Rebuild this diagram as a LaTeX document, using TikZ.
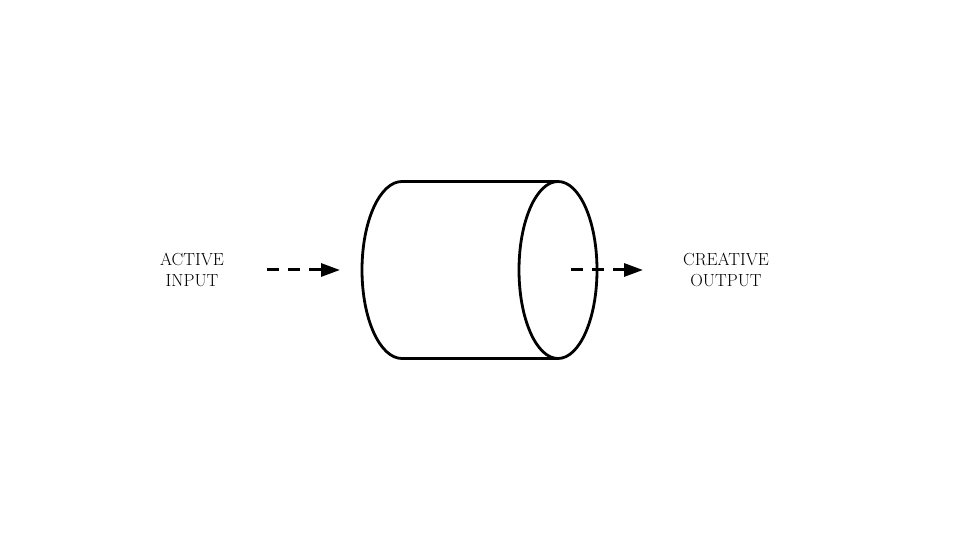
\documentclass[tikz,border=0pt]{standalone}
\usetikzlibrary{arrows.meta}

\tikzset{
  label text/.style={align=center, font=\fontsize{17.5}{21}\selectfont, inner sep=0pt},
  flow/.style={line width=3pt, dash pattern=on 12pt off 9pt, -{Triangle[length=19pt,width=13pt]}}
}

\begin{document}
\begin{tikzpicture}[x=1pt,y=1pt]
\useasboundingbox (0,0) rectangle (960,540);
% cylinder
\draw[line width=2.8pt] (558,358.5) -- (402,358.5)
  arc[start angle=90, end angle=270, x radius=40, y radius=88.5]
  -- (558,181.5);
\draw[line width=2.8pt] (558,270) ellipse [x radius=39, y radius=88.5];
\coordinate (cylin) at (340,270);
\coordinate (cylout) at (571,270);
% labels
\node[label text] (input) at (192,270) {ACTIVE\\INPUT};
\node[label text] (output) at (726,270) {CREATIVE\\OUTPUT};
\coordinate (outend) at (643,270);
\draw[flow] (267,270) -- (cylin);
\draw[flow] (cylout) -- (outend);
\end{tikzpicture}
\end{document}
